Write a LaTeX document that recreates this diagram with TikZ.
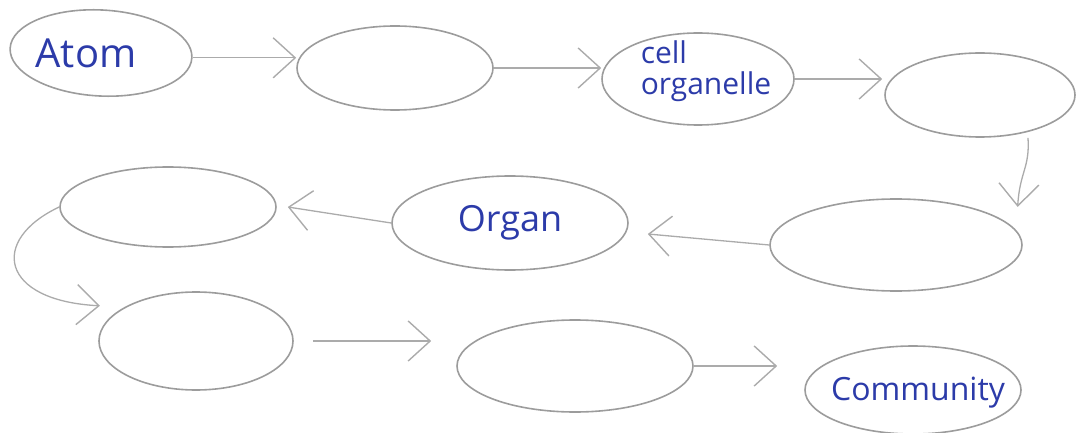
\documentclass[tikz,border=0pt]{standalone}
\usepackage{fontspec}
\newfontfamily\hand{Open Sans}
\usetikzlibrary{shapes.geometric,arrows.meta}

\definecolor{pencil}{HTML}{9C9C9C}
\definecolor{pencillight}{HTML}{ABABAB}
\definecolor{ink}{HTML}{2C3BA9}

\tikzset{
  blob/.style={ellipse, draw=pencil, line width=1.6pt, inner sep=0pt,
    font=\hand\fontsize{36}{38}\selectfont, text=ink},
  word/.style={text=ink, inner sep=0pt},
  flow/.style={draw=pencillight, line width=1.3pt,
    -{Straight Barb[length=22pt,width=40pt,line width=1.4pt]}},
}

\begin{document}
\begin{tikzpicture}[x=1pt,y=-1pt]
  \useasboundingbox (0,0) rectangle (1082,433);

  % top row
  \node[blob, minimum width=182pt, minimum height=86pt, rotate=-3,
        label={[word, xshift=-15pt, font=\hand\fontsize{40}{42}\selectfont]center:Atom}]
        (atom) at (101,53) {};
  \node[blob, minimum width=196pt, minimum height=84pt] (molecule) at (395,68) {};
  \node[blob, minimum width=192pt, minimum height=92pt,
        label={[word, align=left, xshift=8pt, yshift=8pt,
                font=\hand\fontsize{30}{31}\selectfont]center:cell\\organelle}]
        (organelle) at (698,79) {};
  \node[blob, minimum width=190pt, minimum height=84pt] (cell) at (980,95) {};

  % middle row
  \node[blob, minimum width=252pt, minimum height=92pt] (tissue) at (896,245) {};
  \node[blob, minimum width=236pt, minimum height=94pt] (organ) at (510,223) {Organ};
  \node[blob, minimum width=216pt, minimum height=80pt] (system) at (168,207) {};

  % bottom row
  \node[blob, minimum width=194pt, minimum height=98pt] (organism) at (196,341) {};
  \node[blob, minimum width=236pt, minimum height=92pt] (population) at (575,366) {};
  \node[blob, minimum width=216pt, minimum height=88pt,
        label={[word, xshift=5pt, yshift=-3pt,
                font=\hand\fontsize{32}{34}\selectfont]center:Community}]
        (community) at (913,390) {};

  % connectors
  \draw[flow] (atom.east) -- (atom.east -| molecule.west);
  \draw[flow] (molecule.east) -- (molecule.east -| organelle.west);
  \draw[flow] (organelle.east) -- ([xshift=-2pt]organelle.east -| cell.west);
  \draw[flow] ([xshift=48pt]cell.south)
        .. controls +(2,30) and +(2,-35) .. ([xshift=32pt,yshift=5pt]tissue.north east);
  \draw[flow] (tissue.west) -- ([shift={(19,11)}]organ.east);
  \draw[flow] (organ.west) -- ([xshift=11pt]system.east);
  \draw[flow] (system.west)
        .. controls +(-70,33) and +(-100,-5) .. ([xshift=-27pt]organism.north west);
  \draw[flow, shorten <=19pt, shorten >=25pt] (organism.east) -- (organism.east -| population.west);
  \draw[flow, shorten >=27pt] (population.east) -- (population.east -| community.west);
\end{tikzpicture}
\end{document}
